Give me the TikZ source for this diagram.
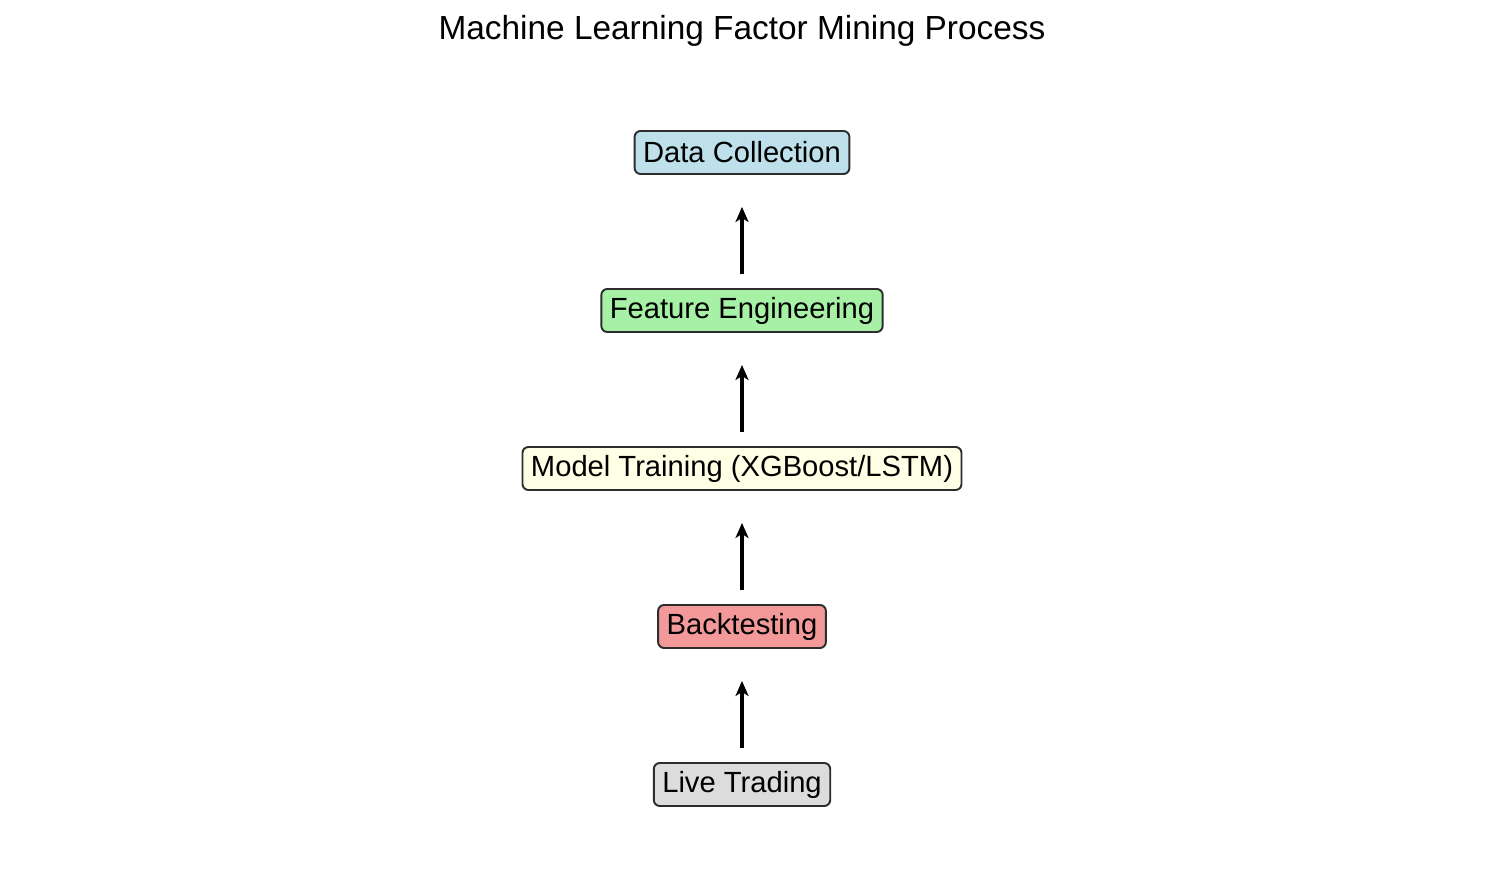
\documentclass[tikz,border=0pt]{standalone}
\usepackage{fontspec}
\setmainfont{Liberation Sans}
\usetikzlibrary{arrows.meta}

\definecolor{boxblue}{RGB}{189,224,235}
\definecolor{boxgreen}{RGB}{166,241,166}
\definecolor{boxyellow}{RGB}{255,255,230}
\definecolor{boxred}{RGB}{243,153,153}
\definecolor{boxgray}{RGB}{220,220,220}
\definecolor{boxedge}{RGB}{45,45,45}

\begin{document}
\begin{tikzpicture}[
    node distance=3.16cm,
    stage/.style={rectangle, draw=boxedge, line width=1.1pt, rounded corners=0.12cm, inner xsep=0.17cm, minimum height=0.86cm, font=\fontsize{16.6}{20}\selectfont},
    arrow/.style={-{Stealth[length=0.3cm, width=0.26cm, inset=0.08cm]}, line width=1.9pt, shorten <=0.28cm, shorten >=0.64cm}
]
    \useasboundingbox (0,0) rectangle (29.7,17.7);
    \node[font=\fontsize{19}{23}\selectfont] (title) at (14.84,17.08) {Machine Learning Factor Mining Process};

    \node[stage, fill=boxgray] (live) at (14.84,2.01) {Live Trading};
    \node[stage, fill=boxred, above of=live] (back) {Backtesting};
    \node[stage, fill=boxyellow, above of=back] (train) {Model Training (XGBoost/LSTM)};
    \node[stage, fill=boxgreen, above of=train] (feat) {Feature Engineering};
    \node[stage, fill=boxblue, above of=feat] (data) {Data Collection};

    \draw[arrow] (live) -- (back);
    \draw[arrow] (back) -- (train);
    \draw[arrow] (train) -- (feat);
    \draw[arrow] (feat) -- (data);
\end{tikzpicture}
\end{document}
